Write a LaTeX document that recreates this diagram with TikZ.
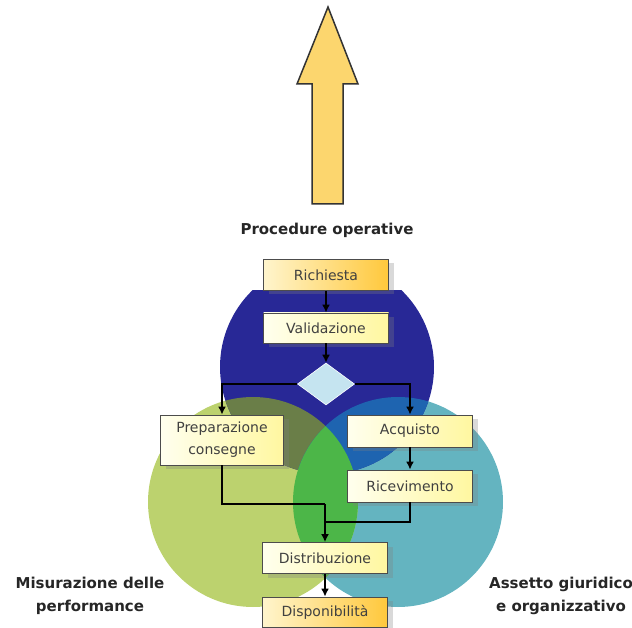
\documentclass[tikz,border=0pt]{standalone}
\usepackage{fontspec}
\setmainfont{DejaVu Sans}
\setsansfont{DejaVu Sans}
\usepackage{tikz}
\usetikzlibrary{shapes.geometric,shadows,arrows.meta}

\definecolor{blu}{RGB}{40,40,150}
\definecolor{kreisgruen}{RGB}{188,210,110}
\definecolor{tuerkis}{RGB}{100,180,192}
\definecolor{oliv}{RGB}{106,126,72}
\definecolor{blaumittel}{RGB}{30,100,176}
\definecolor{hellgruen}{RGB}{76,182,72}
\definecolor{rautenblau}{RGB}{197,228,240}
\definecolor{pfeilgelb}{RGB}{252,214,110}
\definecolor{kastenhell}{RGB}{255,255,238}
\definecolor{kastengelb}{RGB}{255,247,160}
\definecolor{ockerhell}{RGB}{255,245,205}
\definecolor{ocker}{RGB}{255,200,60}

\begin{document}
\begin{tikzpicture}[%show background rectangle,
        x=1pt, y=-1pt,
        font=\sffamily\upshape,
        >={Latex[length=8pt,width=8pt]}, % Pfeilspitzen
        kasten/.style={draw=black!70, line width=.8pt,
            minimum width=125pt, minimum height=31pt, inner sep=2pt,
            text=black!75, align=center,
            font=\sffamily\fontsize{14}{22}\selectfont,
            left color=kastenhell, right color=kastengelb,
            drop shadow={shadow xshift=5pt, shadow yshift=-4pt, opacity=.3}},
        kastenende/.style={kasten, left color=ockerhell, right color=ocker},
        raute/.style={diamond, fill=rautenblau, draw=white, line width=.6pt,
            minimum width=57pt, minimum height=42pt, inner sep=0pt},
        titel/.style={align=center, text=black!85,
            font=\sffamily\bfseries\fontsize{15}{23}\selectfont},
        leitung/.style={line width=2pt, black}
        ]
            \useasboundingbox (0,0) rectangle (632,628);

            % Pfeil
            \draw [fill=pfeilgelb, draw=black!80, line width=1.5pt]
                (312,204) -- (312,84) -- (297,84) -- (328,7)
                -- (358,84) -- (343,84) -- (343,204) -- cycle;

            % Kreise
            \fill [tuerkis]    (398,502) circle (105pt);
            \fill [kreisgruen] (253,502) circle (105pt);
            \begin{scope}
                \clip (200,291) rectangle (460,500);
                \fill [blu]    (327,367) circle (107pt);
            \end{scope}
            \begin{scope}
                \clip (327,367) circle (107pt);
                \fill [oliv]       (253,502) circle (105pt);
                \fill [blaumittel] (398,502) circle (105pt);
            \end{scope}
            \begin{scope}
                \clip (253,502) circle (105pt);
                \fill [hellgruen]  (398,502) circle (105pt);
            \end{scope}

            % Kaesten
            \node [kastenende]                 (ric)   at (326,275) {Richiesta};
            \node [kasten, minimum height=30pt] (val)  at (326,328) {Validazione};
            \node [raute]                      (dia)   at (326,384) {};
            \node [kasten, minimum width=123pt, minimum height=50pt]
                                               (prep)  at (222,440) {Preparazione\\consegne};
            \node [kasten, minimum height=32pt] (acq)  at (410,431) {Acquisto};
            \node [kasten, minimum height=32pt] (ricev) at (410,486) {Ricevimento};
            \node [kasten]                     (distr) at (325,558) {Distribuzione};
            \node [kastenende, minimum height=30pt] (disp) at (325,612) {Disponibilità};

            % Leitungen
            \coordinate (k1) at (325,504);
            \coordinate (k2) at (325,522);
            \draw [leitung, ->] (ric) -- (val);
            \draw [leitung, ->] (val) -- (dia);
            \draw [leitung, ->] (dia.west) -| (prep.north);
            \draw [leitung, ->] (dia.east) -| (acq.north);
            \draw [leitung, ->] (acq) -- (ricev);
            \draw [leitung]     (prep.south) |- (k1);
            \draw [leitung]     (ricev.south) |- (k2);
            \draw [leitung, ->] (k1) -- (distr.north);
            \draw [leitung, ->] (distr) -- (disp);

            % Beschriftung
            \node [titel] (proc) at (327,230) {Procedure operative};
            \node [titel] (mis)  at (90,596)  {Misurazione delle\\performance};
            \node [titel] (ass)  at (561,596) {Assetto giuridico\\e organizzativo};

\end{tikzpicture}
\end{document}
